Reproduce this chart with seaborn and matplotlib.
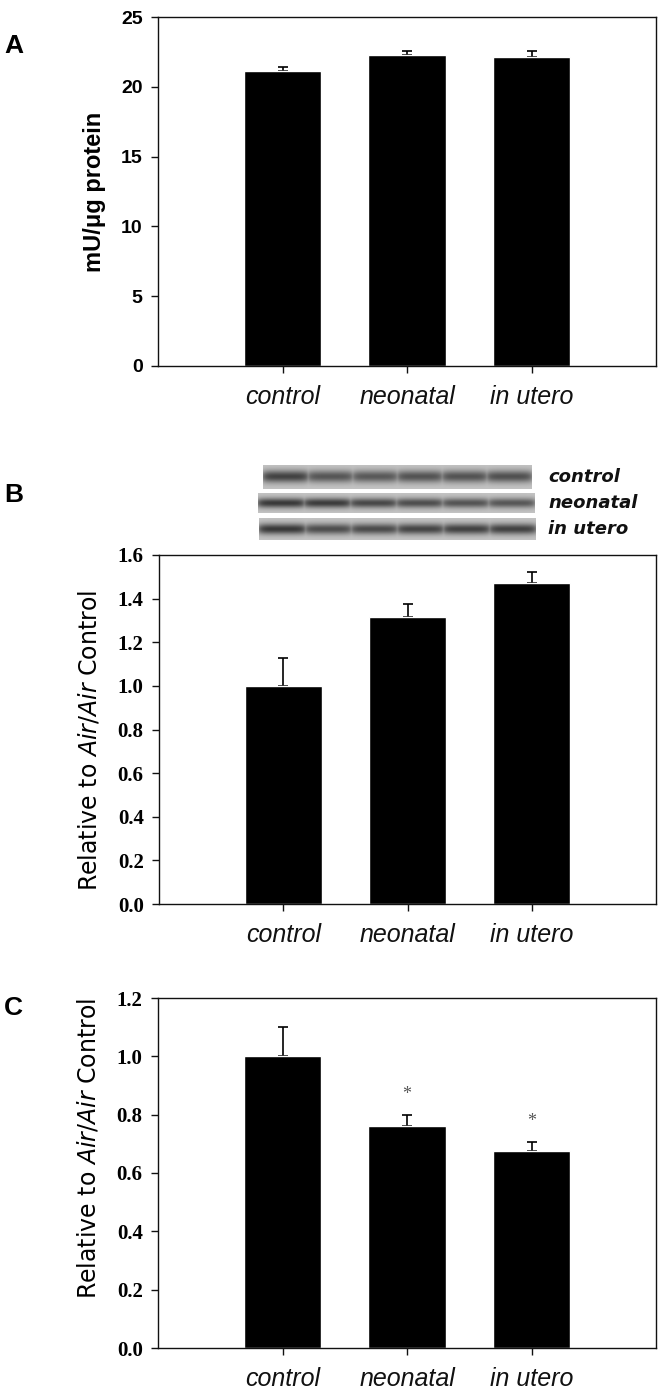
import numpy as np
import matplotlib
matplotlib.use('Agg')
import matplotlib.pyplot as plt
import seaborn as sns

# categories and values
groups = ['control', 'neonatal', 'in utero']

activity = [21.1, 22.25, 22.15]          # panel A, mU/ug protein
activity_err = [0.3, 0.3, 0.4]

blot_rel = [1.0, 1.315, 1.47]            # panel B, relative to air/air control
blot_rel_err = [0.13, 0.06, 0.05]

mrna_rel = [1.0, 0.76, 0.675]            # panel C
mrna_rel_err = [0.10, 0.04, 0.03]
mrna_sig = ['', '*', '*']

# western blot lane intensities (6 lanes per row, 0..1 darkness)
blot_rows = ['control', 'neonatal', 'in utero']
lanes_control = [0.85, 0.72, 0.70, 0.74, 0.74, 0.76]
lanes_neonatal = [0.92, 0.90, 0.82, 0.78, 0.74, 0.72]
lanes_in_utero = [0.92, 0.78, 0.80, 0.84, 0.86, 0.86]

sns.set_theme(style='white')
plt.rcParams['font.family'] = ['Liberation Sans', 'DejaVu Sans']
plt.rcParams['mathtext.fontset'] = 'dejavusans'
plt.rcParams['text.color'] = 'black'
plt.rcParams['axes.labelcolor'] = 'black'
plt.rcParams['xtick.color'] = 'black'
plt.rcParams['ytick.color'] = 'black'

W, H = 664, 1395
fig = plt.figure(figsize=(W / 100, H / 100), dpi=100)


def add_ax(l, t, r, b):
    return fig.add_axes([l / W, 1 - b / H, (r - l) / W, (b - t) / H])


def bar_panel(ax, vals, errs, ylim, yticks, tickfmt, tickfont):
    sns.barplot(x=groups, y=vals, color='black', width=0.62, saturation=1,
                errorbar=None, ax=ax, zorder=2)
    ax.errorbar(np.arange(len(vals)), vals, yerr=[np.zeros(len(errs)), errs],
                fmt='none', ecolor='black', elinewidth=1.2, capsize=3.8,
                capthick=1.2, zorder=1)
    ax.set_xlim(-1, 3)
    ax.set_ylim(*ylim)
    ax.set_yticks(yticks)
    ax.set_yticklabels([tickfmt.format(v) for v in yticks], **tickfont)
    ax.set_xlabel('')
    ax.tick_params(axis='both', direction='out', length=5, width=1.0,
                   color='#111111', left=True, bottom=True)
    ax.tick_params(axis='y', pad=6)
    ax.tick_params(axis='x', pad=9)
    for lab in ax.get_xticklabels():
        lab.set_fontstyle('italic')
        lab.set_fontsize(18)
        lab.set_family('Liberation Sans')
        lab.set_color('#111111')
    for s in ax.spines.values():
        s.set_visible(True)
        s.set_color('#111111')
        s.set_linewidth(1.0)


# Panel A
axA = add_ax(158, 17, 656, 366)
bar_panel(axA, activity, activity_err, (0, 25), [0, 5, 10, 15, 20, 25], '{:g}',
          dict(fontsize=14, fontweight='bold', family=['Liberation Sans Narrow', 'Liberation Sans']))
axA.set_ylabel('mU/\u03bcg protein', fontsize=17, fontweight='bold')
axA.yaxis.set_label_coords(-0.104, 0.5)

# Panel B
axB = add_ax(159, 555, 656, 904)
bar_panel(axB, blot_rel, blot_rel_err, (0, 1.6), np.arange(0, 1.61, 0.2), '{:.1f}',
          dict(fontsize=15, fontweight='bold', family='Liberation Serif'))
axB.set_ylabel('Relative to $\\mathit{Air/Air}$ Control', fontsize=17,
               family='DejaVu Sans')
axB.yaxis.set_label_coords(-0.116, 0.47)

# Panel C
axC = add_ax(158, 998, 656, 1348)
bar_panel(axC, mrna_rel, mrna_rel_err, (0, 1.2), np.arange(0, 1.21, 0.2), '{:.1f}',
          dict(fontsize=15, fontweight='bold', family='Liberation Serif'))
axC.set_ylabel('Relative to $\\mathit{Air/Air}$ Control', fontsize=17,
               family='DejaVu Sans')
axC.yaxis.set_label_coords(-0.116, 0.57)
for i, mark in enumerate(mrna_sig):
    if mark:
        axC.text(i, mrna_rel[i] + mrna_rel_err[i] + 0.07, mark, ha='center',
                 va='center', fontsize=13, color='#555555', family='Liberation Serif')

# western blot strips
strip_boxes = [(263, 465, 532, 489), (258, 493, 535, 513), (259, 518, 536, 540)]
strip_lanes = [lanes_control, lanes_neonatal, lanes_in_utero]
for (l, t, r, b), lanes, name in zip(strip_boxes, strip_lanes, blot_rows):
    bax = add_ax(l, t, r, b)
    nx, ny = (r - l) * 2, (b - t) * 2
    xx = np.linspace(0, len(lanes), nx)
    yy = np.linspace(-1, 1, ny)
    dark = np.zeros((ny, nx))
    for k, v in enumerate(lanes):
        lane_x = np.clip(1 - ((xx - (k + 0.5)) / 0.53) ** 6, 0, 1) ** 0.5
        dark = np.maximum(dark, v * np.outer(np.exp(-(yy / 0.5) ** 2), lane_x))
    img = 0.77 - 0.6 * dark
    bax.imshow(img, cmap='gray', vmin=0, vmax=1, aspect='auto',
               interpolation='bicubic')
    bax.set_xticks([])
    bax.set_yticks([])
    for s in bax.spines.values():
        s.set_visible(False)
    fig.text(548 / W, 1 - (t + b) / 2 / H, name, ha='left', va='center',
             fontsize=13, fontstyle='italic', fontweight='bold', family='DejaVu Sans',
             color='#111111')

# panel letters
for letter, yc in zip(['A', 'B', 'C'], [46, 495, 1008]):
    fig.text(4 / W, 1 - yc / H, letter, ha='left', va='center', fontsize=19,
             fontweight='bold')

fig.savefig('out.png', dpi=100, facecolor='white')
